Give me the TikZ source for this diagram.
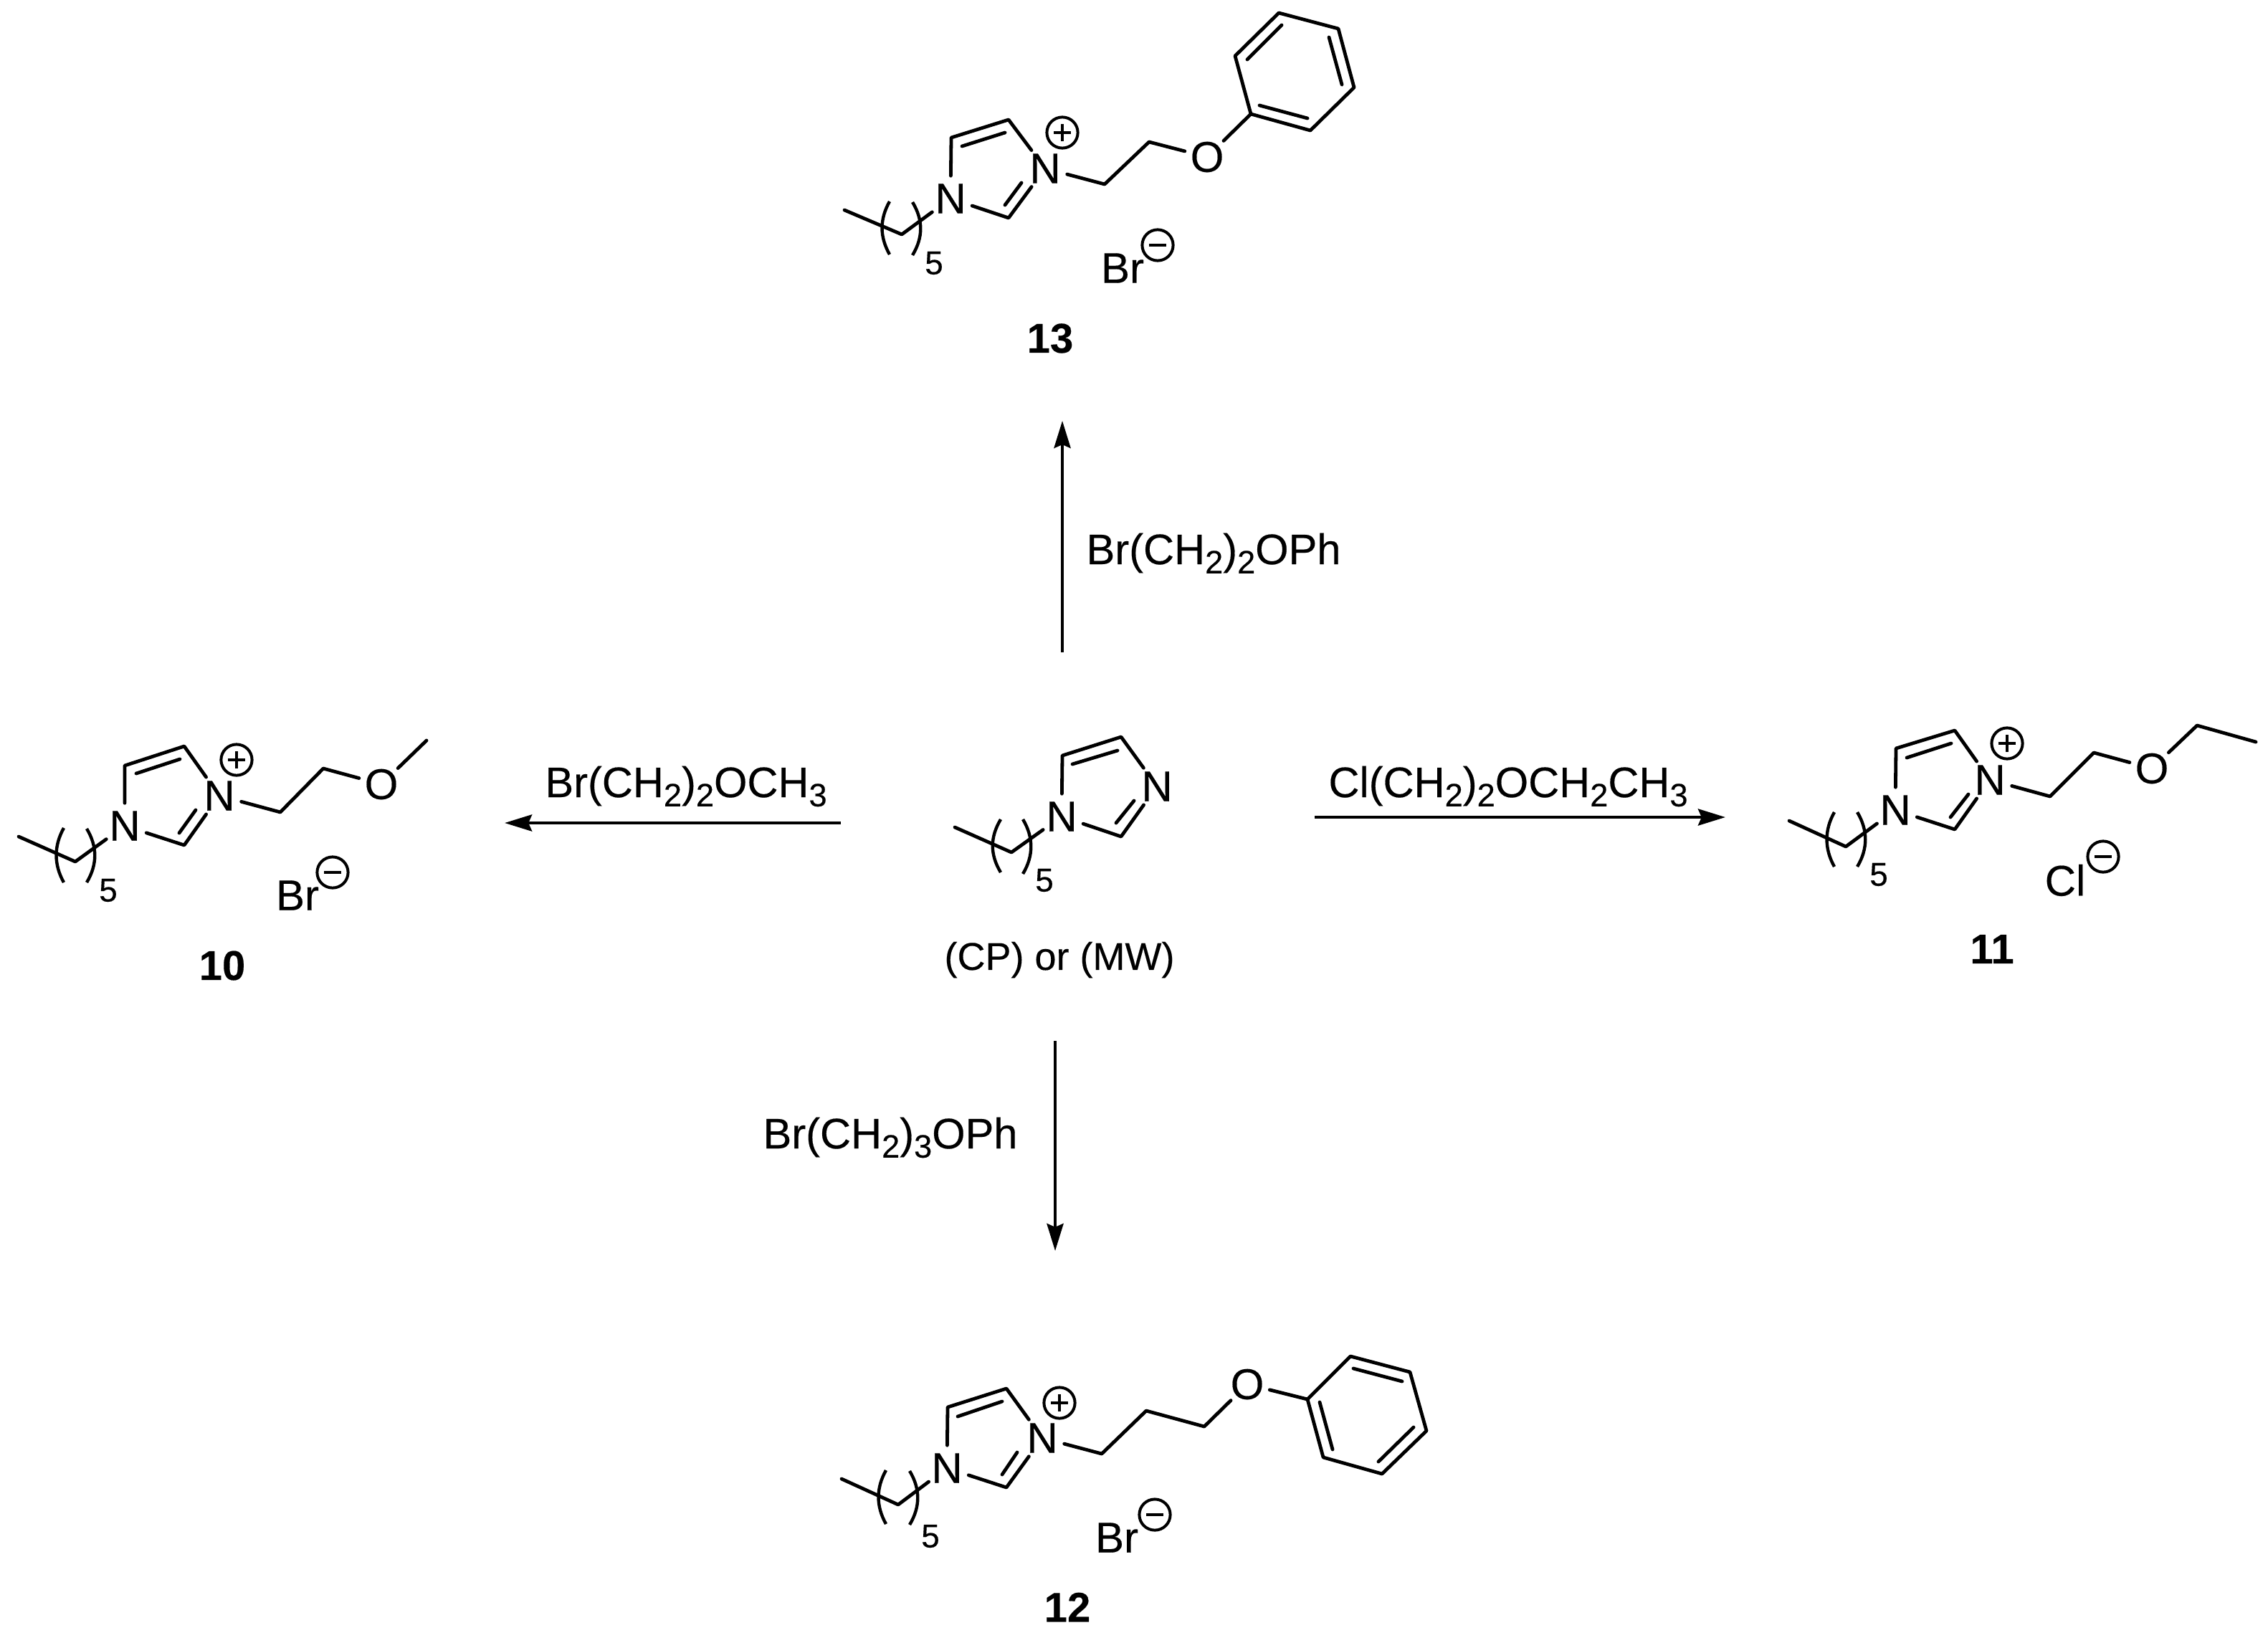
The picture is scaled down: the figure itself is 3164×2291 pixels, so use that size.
\documentclass[tikz,border=0pt]{standalone}
\usepackage{fontspec}
\setmainfont[FakeBold=0.3]{Liberation Sans}
\usetikzlibrary{arrows.meta,calc}
\newcommand{\subnum}[1]{\raisebox{-3.2pt}{\fontsize{11.3pt}{13pt}\selectfont #1}}
\tikzset{
  x=0.25pt,y=-0.25pt,
  bond/.style={line width=1.2pt,line cap=round,line join=round},
  paren/.style={line width=1.1pt,line cap=butt},
  atom/.style={circle,inner sep=0pt,minimum size=15.5pt,font=\fontsize{15pt}{16pt}\selectfont},
  ion/.style={inner sep=0pt,font=\fontsize{15pt}{16pt}\selectfont},
  num/.style={inner sep=0pt,font=\fontsize{11.5pt}{13pt}\selectfont},
  cmpd/.style={inner sep=0pt,font=\bfseries\fontsize{14.5pt}{16pt}\selectfont},
  reagent/.style={inner sep=0pt,anchor=base,font=\fontsize{14.9pt}{16pt}\selectfont},
  chg/.style={circle,draw,line width=1pt,inner sep=0pt,minimum size=10.8pt},
  rxn/.style={line width=1.15pt,-{Stealth[length=9.5pt,width=5.75pt,inset=1.2pt]}},
}
\newcommand{\chgplus}[2]{\node[chg] (#1) at (#2) {};
  \draw[line width=1pt] ($(#1)+(-12,0)$) -- ($(#1)+(12,0)$) ($(#1)+(0,-12)$) -- ($(#1)+(0,12)$);}
\newcommand{\chgminus}[2]{\node[chg] (#1) at (#2) {};
  \draw[line width=1.1pt] ($(#1)+(-12,0)$) -- ($(#1)+(12,0)$);}
\begin{document}
\begin{tikzpicture}
\useasboundingbox (0,0) rectangle (3164,2291);
% ---------- central imidazole
\node[atom] (cN1) at (1481,1139) {N};
\node[atom] (cN3) at (1614,1097) {N};
\coordinate (cC5) at (1482,1054); \coordinate (cC4) at (1564,1028); \coordinate (cC2) at (1564,1167);
\coordinate (cMe) at (1332,1154); \coordinate (cCa) at (1411,1189);
\draw[bond] (cMe) -- (cCa) -- (cN1);
\draw[bond] (cN1) -- (cC5) -- (cC4) -- (cN3) -- (cC2) -- (cN1);
\draw[bond] (1496,1066) -- (1559,1047) (1557,1148) -- (1582,1117);
\draw[paren] (1396,1143) .. controls (1381,1168) and (1381,1192) .. (1396,1217);
\draw[paren] (1427,1143) .. controls (1442,1168) and (1442,1194) .. (1427,1219);
\node[num] (c5) at (1457,1228) {5};
\node[inner sep=0pt,font=\fontsize{13.5pt}{16pt}\selectfont] (cond) at (1478,1339) {(CP) or (MW)};
% ---------- 13
\node[atom] (dN1) at (1326,277) {N};
\node[atom] (dN3) at (1458,235) {N};
\node[atom] (dO) at (1684,219) {O};
\coordinate (dC5) at (1327,192); \coordinate (dC4) at (1407,167); \coordinate (dC2) at (1407,304);
\coordinate (dMe) at (1178,293); \coordinate (dCa) at (1258,327);
\coordinate (dC1) at (1541,257); \coordinate (dC7) at (1603,198);
\coordinate (dP1) at (1745,159); \coordinate (dP2) at (1723,78); \coordinate (dP3) at (1784,18);
\coordinate (dP4) at (1867,40); \coordinate (dP5) at (1889,122); \coordinate (dP6) at (1828,182);
\draw[bond] (dMe) -- (dCa) -- (dN1);
\draw[bond] (dN1) -- (dC5) -- (dC4) -- (dN3) -- (dC2) -- (dN1);
\draw[bond] (1342,204) -- (1402,185) (1402,286) -- (1425,255);
\draw[bond] (dN3) -- (dC1) -- (dC7) -- (dO) -- (dP1);
\draw[bond] (dP1) -- (dP2) -- (dP3) -- (dP4) -- (dP5) -- (dP6) -- cycle;
\draw[bond] (1740,83) -- (1788,35) (1854,52) -- (1872,118) (1757,147) -- (1824,165);
\draw[paren] (1241,281) .. controls (1227,306) and (1227,330) .. (1241,355);
\draw[paren] (1273,282) .. controls (1288,307) and (1288,331) .. (1273,356);
\node[num] (d5) at (1303,367) {5};
\chgplus{dplus}{1482,185}
\node[ion] (dBr) at (1566,374) {Br};
\chgminus{dminus}{1615,342}
\node[cmpd] (d13) at (1465,472) {13};
% ---------- 10
\node[atom] (aN1) at (174,1152) {N};
\node[atom] (aN3) at (306,1110) {N};
\node[atom] (aO) at (532,1094) {O};
\coordinate (aC5) at (174,1068); \coordinate (aC4) at (257,1041); \coordinate (aC2) at (257,1179);
\coordinate (aMe) at (26,1167); \coordinate (aCa) at (105,1202);
\coordinate (aC1) at (391,1133); \coordinate (aC7) at (451,1072); \coordinate (aC8) at (595,1033);
\draw[bond] (aMe) -- (aCa) -- (aN1);
\draw[bond] (aN1) -- (aC5) -- (aC4) -- (aN3) -- (aC2) -- (aN1);
\draw[bond] (190,1079) -- (251,1059) (250,1162) -- (273,1130);
\draw[bond] (aN3) -- (aC1) -- (aC7) -- (aO) -- (aC8);
\draw[paren] (89,1155) .. controls (75,1180) and (75,1206) .. (89,1231);
\draw[paren] (121,1156) .. controls (136,1181) and (136,1206) .. (121,1231);
\node[num] (a5) at (151,1242) {5};
\chgplus{aplus}{330,1060}
\node[ion] (aBr) at (415,1249) {Br};
\chgminus{aminus}{464,1217}
\node[cmpd] (a10) at (310,1347) {10};
% ---------- 11
\node[atom] (bN1) at (2644,1130) {N};
\node[atom] (bN3) at (2776,1088) {N};
\node[atom] (bO) at (3002,1072) {O};
\coordinate (bC5) at (2645,1044); \coordinate (bC4) at (2727,1019); \coordinate (bC2) at (2727,1157);
\coordinate (bMe) at (2496,1145); \coordinate (bCa) at (2575,1181);
\coordinate (bC1) at (2860,1111); \coordinate (bC7) at (2921,1050); \coordinate (bC8) at (3065,1012); \coordinate (bC9) at (3147,1035);
\draw[bond] (bMe) -- (bCa) -- (bN1);
\draw[bond] (bN1) -- (bC5) -- (bC4) -- (bN3) -- (bC2) -- (bN1);
\draw[bond] (2660,1057) -- (2722,1037) (2721,1140) -- (2746,1108);
\draw[bond] (bN3) -- (bC1) -- (bC7) -- (bO) -- (bC8) -- (bC9);
\draw[paren] (2559,1133) .. controls (2545,1158) and (2545,1184) .. (2559,1209);
\draw[paren] (2591,1133) .. controls (2606,1158) and (2606,1184) .. (2591,1209);
\node[num] (b5) at (2621,1220) {5};
\chgplus{bplus}{2800,1037}
\node[ion] (bCl) at (2881,1228) {Cl};
\chgminus{bminus}{2934,1195}
\node[cmpd] (b11) at (2779,1324) {11};
% ---------- 12
\node[atom] (eN1) at (1321,2048) {N};
\node[atom] (eN3) at (1454,2006) {N};
\node[atom] (eO) at (1740,1931) {O};
\coordinate (eC5) at (1322,1963); \coordinate (eC4) at (1404,1937); \coordinate (eC2) at (1404,2075);
\coordinate (eMe) at (1174,2063); \coordinate (eCa) at (1253,2099);
\coordinate (eC1) at (1537,2028); \coordinate (eC7) at (1599,1968); \coordinate (eC8) at (1680,1990);
\coordinate (eP1) at (1824,1952); \coordinate (eP2) at (1884,1892); \coordinate (eP3) at (1967,1914);
\coordinate (eP4) at (1990,1996); \coordinate (eP5) at (1928,2056); \coordinate (eP6) at (1846,2033);
\draw[bond] (eMe) -- (eCa) -- (eN1);
\draw[bond] (eN1) -- (eC5) -- (eC4) -- (eN3) -- (eC2) -- (eN1);
\draw[bond] (1336,1976) -- (1398,1955) (1398,2057) -- (1419,2026);
\draw[bond] (eN3) -- (eC1) -- (eC7) -- (eC8) -- (eO) -- (eP1);
\draw[bond] (eP1) -- (eP2) -- (eP3) -- (eP4) -- (eP5) -- (eP6) -- cycle;
\draw[bond] (1888,1909) -- (1956,1927) (1972,1991) -- (1923,2039) (1841,1956) -- (1859,2022);
\draw[paren] (1236,2051) .. controls (1222,2076) and (1222,2101) .. (1236,2126);
\draw[paren] (1269,2052) .. controls (1284,2077) and (1284,2102) .. (1269,2127);
\node[num] (e5) at (1298,2143) {5};
\chgplus{eplus}{1478,1957}
\node[ion] (eBr) at (1558,2145) {Br};
\chgminus{eminus}{1611,2113}
\node[cmpd] (e12) at (1489,2242) {12};
% ---------- arrows
\coordinate (t0) at (1482,910); \coordinate (t1) at (1482,587);
\coordinate (b0) at (1472,1452); \coordinate (b1) at (1472,1745);
\coordinate (l0) at (1173,1148); \coordinate (l1) at (704,1148);
\coordinate (r0) at (1834,1140); \coordinate (r1) at (2407,1140);
\draw[rxn] (t0) -- (t1);
\draw[rxn] (b0) -- (b1);
\draw[rxn] (l0) -- (l1);
\draw[rxn] (r0) -- (r1);
\node[reagent] (rt) at (1693,787) {Br(CH\subnum{2})\subnum{2}OPh};
\node[reagent] (rl) at (957,1112) {Br(CH\subnum{2})\subnum{2}OCH\subnum{3}};
\node[reagent] (rr) at (2104,1112) {Cl(CH\subnum{2})\subnum{2}OCH\subnum{2}CH\subnum{3}};
\node[reagent] (rb) at (1242,1602) {Br(CH\subnum{2})\subnum{3}OPh};
\end{tikzpicture}
\end{document}
